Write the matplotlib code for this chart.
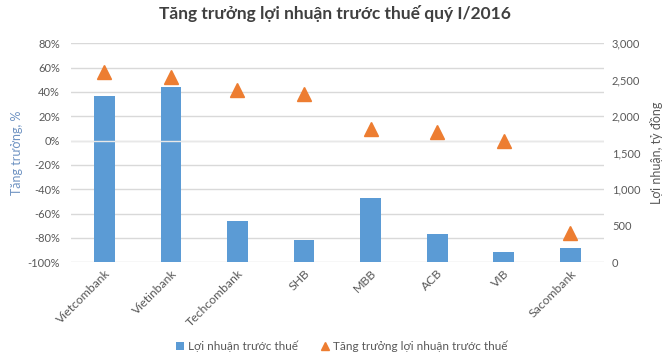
import matplotlib
matplotlib.use('Agg')
import matplotlib.pyplot as plt

# data
banks = ['Vietcombank', 'Vietinbank', 'Techcombank', 'SHB', 'MBB', 'ACB', 'VIB', 'Sacombank']
profit = [2285, 2400, 570, 300, 880, 390, 145, 195]          # ty dong, right axis
growth = [56.7, 52.4, 41.7, 38.4, 9.6, 7.4, 0.0, -75.6]     # %, left axis

left_ticks = list(range(-100, 81, 20))
right_ticks = list(range(0, 3001, 500))

plt.rcParams['font.family'] = ['Lato', 'DejaVu Sans']
txt = '#595959'
blue = '#5B9BD5'
orange = '#ED7D31'

fig = plt.figure(figsize=(6.7, 3.63), dpi=100)
ax = fig.add_axes([0.106, 0.2774, 0.795, 0.6033])
ax2 = ax.twinx()
ax3 = ax.twinx()

x = list(range(len(banks)))

# left axis: growth %, gridlines
ax.set_ylim(-100, 80)
ax.set_yticks(left_ticks)
ax.set_yticklabels(['{}%'.format(v) for v in left_ticks])
ax.set_xlim(-0.5, len(banks) - 0.5)
ax.set_xticks(x)
ax.set_xticklabels(banks, rotation=45, ha='right', rotation_mode='anchor')
ax.grid(axis='y', color='#D9D9D9', linewidth=1)
ax.set_axisbelow(True)
ax.set_ylabel('Tăng trưởng, %', color='#6F93C2', fontsize=9, labelpad=3)

# right axis: profit bars
bars = ax2.bar(x, profit, width=0.31, color=blue, label='Lợi nhuận trước thuế', zorder=2)
ax2.set_ylim(0, 3000)
ax2.set_yticks(right_ticks)
ax2.set_yticklabels(['{:,}'.format(v) for v in right_ticks])
ax2.set_ylabel('Lợi nhuận, tỷ đồng', color=txt, fontsize=9, labelpad=7)

# growth triangles on top, same scale as left axis
ax3.set_ylim(ax.get_ylim())
ax3.axhline(0, color='#E8E8E8', linewidth=1, zorder=1)
tri, = ax3.plot(x, growth, linestyle='none', marker='^', markersize=9.5,
                color=orange, label='Tăng trưởng lợi nhuận trước thuế', zorder=3)
ax3.set_yticks([])

for a in (ax, ax2, ax3):
    for s in a.spines.values():
        s.set_visible(False)
    a.tick_params(length=0, colors=txt, labelsize=8)
ax.tick_params(axis='x', pad=4, labelsize=8.8)
ax.tick_params(axis='y', pad=8)
ax2.tick_params(axis='y', pad=6)

fig.suptitle('Tăng trưởng lợi nhuận trước thuế quý I/2016', x=0.5, y=0.985,
             fontsize=12.5, fontweight='bold', color='#404040')

fig.legend(handles=[bars, tri], loc='lower center', bbox_to_anchor=(0.51, 0.0),
           ncol=2, frameon=False, fontsize=8.5, labelcolor=txt,
           handlelength=0.7, handletextpad=0.3, columnspacing=2.0, markerscale=0.6)

fig.savefig('out.png', dpi=100)
